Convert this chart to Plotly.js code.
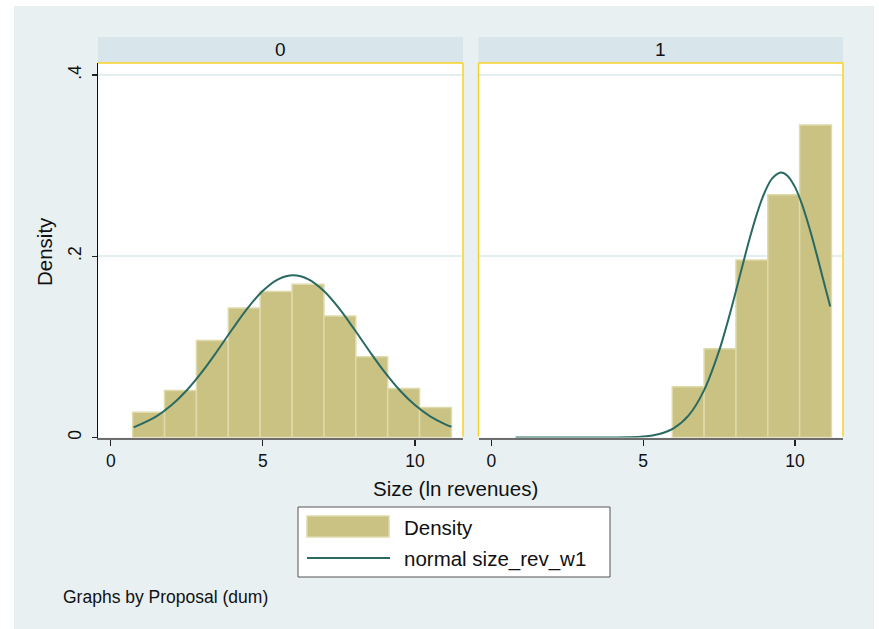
<!DOCTYPE html>
<html>
<head>
<meta charset="utf-8">
<script src="https://cdn.plot.ly/plotly-3.0.1.min.js"></script>
<style>html,body{margin:0;padding:0;background:#fff;}#chart{width:879px;height:629px;}</style>
</head>
<body>
<div id="chart"></div>
<script>
// ---- data ----
const panelLabels = ["0", "1"];
const binCenters = [1.244, 2.292, 3.34, 4.388, 5.436, 6.484, 7.532, 8.58, 9.628, 10.676];
const binWidth = 1.048;
const density0 = [0.028, 0.052, 0.107, 0.143, 0.161, 0.169, 0.134, 0.089, 0.054, 0.033];
const density1 = [null, null, null, null, null, 0.056, 0.098, 0.196, 0.268, 0.345];

const normX0 = [0.75, 1.5, 2, 2.5, 3, 3.5, 4, 4.5, 5, 5.5, 6, 6.5, 7, 7.5, 8, 8.5, 9, 9.5, 10, 10.5, 11, 11.2];
const normY0 = [0.0112, 0.0234, 0.0358, 0.0522, 0.0724, 0.0955, 0.1197, 0.1428, 0.1619, 0.1746, 0.179,
                0.1746, 0.1619, 0.1428, 0.1197, 0.0955, 0.0724, 0.0522, 0.0358, 0.0234, 0.0145, 0.0118];
const normX1 = [0.8, 2, 3, 4, 4.5, 5, 5.5, 6, 6.5, 7, 7.5, 7.75, 8, 8.25, 8.5, 8.75, 9, 9.25, 9.54, 9.75, 10, 10.25, 10.5, 10.75, 11, 11.16];
const normY1 = [0.0001, 0.0001, 0.0001, 0.0001, 0.0003, 0.0011, 0.0036, 0.0101, 0.0244, 0.0517, 0.0956, 0.1236, 0.1545,
                0.187, 0.2187, 0.2473, 0.2704, 0.286, 0.2925, 0.289, 0.2763, 0.2554, 0.2283, 0.1974, 0.1649, 0.1445];

const xTickVals = [0, 5, 10];
const xTickText = ["0", "5", "10"];
const yTickVals = [0, 0.2, 0.4];
const yTickText = ["0", ".2", ".4"];
const xTitle = "Size (ln revenues)";
const yTitle = "Density";
const legendBar = "Density";
const legendLine = "normal size_rev_w1";
const note = "Graphs by Proposal (dum)";

// ---- styles ----
const W = 879, H = 629;
const FONT = "Liberation Sans, Arial, sans-serif";
const barFill = "#c9c283";
const barEdge = "#dedaa9";
const lineCol = "#2a6a63";
const bgCol = "#e8f0f2";
const stripCol = "#d8e5ea";
const yellow = "#f8d227";
const txt = "#111";
const px = v => v / W;
const py = v => 1 - v / H;

const p0 = [98, 463], p1 = [478.5, 843];
const topY = 63, botY = 437.5;

const traces = [
  {type: "bar", x: binCenters, y: density0, width: binWidth, xaxis: "x", yaxis: "y",
   marker: {color: barFill, line: {color: barEdge, width: 1.5}}, showlegend: false},
  {type: "scatter", mode: "lines", x: normX0, y: normY0, xaxis: "x", yaxis: "y",
   line: {color: lineCol, width: 2, shape: "spline"}, showlegend: false},
  {type: "bar", x: binCenters, y: density1, width: binWidth, xaxis: "x2", yaxis: "y2",
   marker: {color: barFill, line: {color: barEdge, width: 1.5}}, showlegend: false},
  {type: "scatter", mode: "lines", x: normX1, y: normY1, xaxis: "x2", yaxis: "y2",
   line: {color: lineCol, width: 2, shape: "spline"}, showlegend: false}
];

const xCommon = {
  range: [-0.42, 11.58], tickvals: xTickVals, ticktext: xTickText,
  ticks: "outside", ticklen: 6, tickwidth: 1.2, tickcolor: "#222",
  showline: true, linecolor: "#6d6d6d", linewidth: 2, showgrid: false, zeroline: false,
  tickfont: {family: FONT, size: 17.5, color: txt}, fixedrange: true
};
const yCommon = {
  range: [0, 0.4133], domain: [py(botY), py(topY)], tickvals: yTickVals,
  showgrid: true, gridcolor: "#e4edf0", gridwidth: 2, zeroline: false, fixedrange: true
};

const shapes = [
  {type: "rect", xref: "paper", yref: "paper", x0: 0, x1: px(14), y0: 0, y1: 1, fillcolor: "#fff", line: {width: 0}},
  {type: "rect", xref: "paper", yref: "paper", x0: px(874), x1: 1, y0: 0, y1: 1, fillcolor: "#fff", line: {width: 0}},
  {type: "rect", xref: "paper", yref: "paper", x0: 0, x1: 1, y0: py(6), y1: 1, fillcolor: "#fff", line: {width: 0}},
  {type: "rect", xref: "paper", yref: "paper", x0: px(p0[0]), x1: px(p0[1]), y0: py(topY), y1: py(37), fillcolor: stripCol, line: {width: 0}},
  {type: "rect", xref: "paper", yref: "paper", x0: px(p1[0]), x1: px(p1[1]), y0: py(topY), y1: py(37), fillcolor: stripCol, line: {width: 0}},
  {type: "line", xref: "paper", yref: "paper", x0: px(p0[0]), x1: px(p0[1]), y0: py(topY), y1: py(topY), line: {color: yellow, width: 1.5}},
  {type: "line", xref: "paper", yref: "paper", x0: px(p0[1]), x1: px(p0[1]), y0: py(topY), y1: py(botY - 1), line: {color: yellow, width: 1.5}},
  {type: "line", xref: "paper", yref: "paper", x0: px(p1[0]), x1: px(p1[1]), y0: py(topY), y1: py(topY), line: {color: yellow, width: 1.5}},
  {type: "line", xref: "paper", yref: "paper", x0: px(p1[0]), x1: px(p1[0]), y0: py(topY), y1: py(botY - 1), line: {color: yellow, width: 1.5}},
  {type: "line", xref: "paper", yref: "paper", x0: px(p1[1]), x1: px(p1[1]), y0: py(topY), y1: py(botY - 1), line: {color: yellow, width: 1.5}},
  {type: "rect", xref: "paper", yref: "paper", x0: px(298), x1: px(610), y0: py(577), y1: py(507), fillcolor: "#fff", line: {color: "#555", width: 1}},
  {type: "rect", xref: "paper", yref: "paper", x0: px(307), x1: px(389), y0: py(537), y1: py(516), fillcolor: barFill, line: {color: barEdge, width: 1.5}},
  {type: "line", xref: "paper", yref: "paper", x0: px(307), x1: px(390), y0: py(558), y1: py(558), line: {color: lineCol, width: 2}}
];

const ann = (text, x, y, size, opts) => Object.assign({
  text: text, xref: "paper", yref: "paper", x: px(x), y: py(y), showarrow: false,
  font: {family: FONT, size: size, color: txt}, xanchor: "center", yanchor: "middle"
}, opts || {});

const annotations = [
  ann(panelLabels[0], (p0[0] + p0[1]) / 2, 50, 19),
  ann(panelLabels[1], (p1[0] + p1[1]) / 2, 50, 19),
  ann(xTitle, 455, 488, 20.5),
  ann(yTitle, 45, 252, 20.5, {textangle: -90}),
  ann(legendBar, 402, 527, 20.5, {xanchor: "left"}),
  ann(legendLine, 402, 559, 20.5, {xanchor: "left"}),
  ann(note, 61, 597, 17.5, {xanchor: "left"})
];

const layout = {
  width: W, height: H, margin: {l: 0, r: 0, t: 0, b: 0, pad: 0},
  paper_bgcolor: bgCol, plot_bgcolor: "#fff", bargap: 0, showlegend: false,
  font: {family: FONT},
  xaxis: Object.assign({}, xCommon, {domain: [px(p0[0]), px(p0[1])], anchor: "y"}),
  xaxis2: Object.assign({}, xCommon, {domain: [px(p1[0]), px(p1[1])], anchor: "y2"}),
  yaxis: Object.assign({}, yCommon, {anchor: "x", ticktext: yTickText, ticks: "outside", ticklen: 5,
    tickwidth: 1.2, tickcolor: "#222", showline: true, linecolor: "#111", linewidth: 1.5,
    tickangle: -90, ticklabelstandoff: 4, tickfont: {family: FONT, size: 17.5, color: txt}}),
  yaxis2: Object.assign({}, yCommon, {anchor: "x2", matches: "y", showticklabels: false, ticks: "", showline: false}),
  shapes: shapes, annotations: annotations
};

Plotly.newPlot("chart", traces, layout, {staticPlot: true, displayModeBar: false});
</script>
</body>
</html>
